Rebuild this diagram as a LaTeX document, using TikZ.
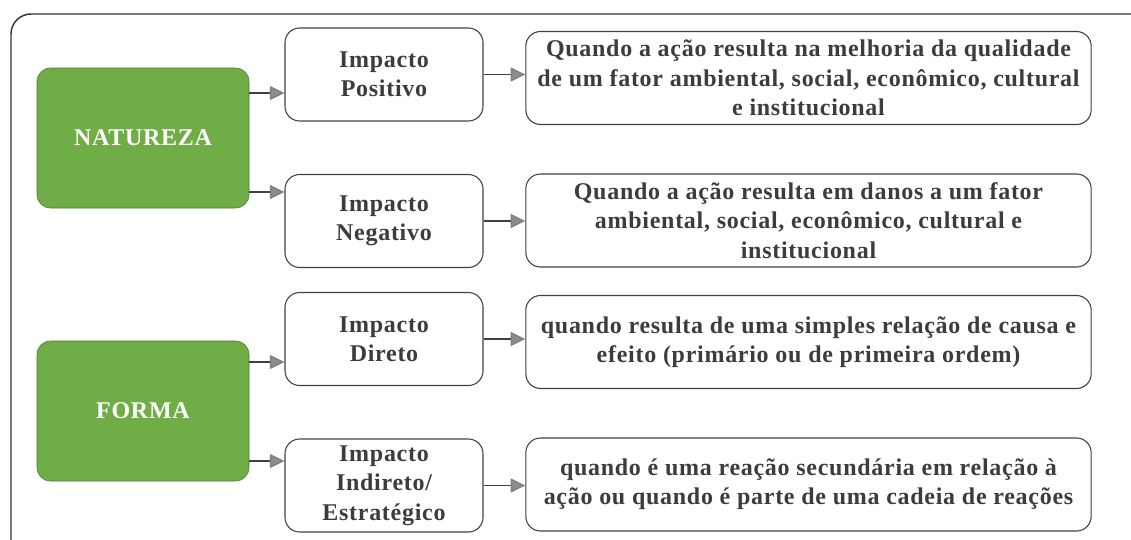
\documentclass[tikz,border=0pt]{standalone}
\usepackage{fontspec}
\setmainfont{Liberation Serif}[LetterSpace=3]
\usetikzlibrary{arrows.meta,calc}

\definecolor{natgreen}{HTML}{70AD47}
\definecolor{txtgray}{HTML}{3C3C3C}

\tikzset{
  grupo/.style={draw=natgreen!70!black, fill=natgreen, rounded corners=10pt,
    minimum width=159pt, minimum height=105pt, text=white,
    font=\bfseries\fontsize{18}{21}\selectfont},
  tipo/.style={draw=black!75, line width=0.8pt, rounded corners=11pt,
    minimum width=148.5pt, minimum height=69.75pt, align=center, text=txtgray,
    inner sep=2pt, font=\bfseries\fontsize{18}{22}\selectfont},
  descr/.style={tipo, minimum width=424pt},
  seta/.style={draw=black!75, line width=1.1pt,
    -{Triangle[length=11pt,width=10.5pt,fill=black!45,color=black!50]}}
}

\begin{document}
\begin{tikzpicture}[x=0.75pt,y=-0.75pt]
  \useasboundingbox (0,0) rectangle (1131,539);
  \clip (0,0) rectangle (1131,539);
  % moldura
  \draw[black!80, line width=1.1pt, rounded corners=15pt] (11,14) rectangle (1160,580);

  % grupos
  \node[grupo] (nat) at (143,138) {NATUREZA};
  \node[grupo] (forma) at (143,411) {FORMA};

  % tipos de impacto
  \node[tipo] (ipos) at (384,74.5) {Impacto\\Positivo};
  \node[tipo] (ineg) at (384,221) {Impacto\\Negativo};
  \node[tipo] (idir) at (384,339) {Impacto\\Direto};
  \node[tipo] (iind) at (384,485.5) {Impacto\\Indireto/\\Estratégico};

  % descricoes
  \node[descr] (dpos) at (808.5,78) {Quando a ação resulta na melhoria da qualidade\\de um fator ambiental, social, econômico, cultural\\e institucional};
  \node[descr] (dneg) at (808.5,220.5) {Quando a ação resulta em danos a um fator\\ambiental, social, econômico, cultural e\\institucional};
  \node[descr] (ddir) at (808.5,342) {quando resulta de uma simples relação de causa e\\efeito (primário ou de primeira ordem)};
  \node[descr] (dind) at (808.5,484.5) {quando é uma reação secundária em relação à\\ação ou quando é parte de uma cadeia de reações};

  % setas
  \coordinate (n1) at ($(nat.east)+(0,-45)$);
  \coordinate (n2) at ($(nat.east)+(0,54)$);
  \coordinate (f1) at ($(forma.east)+(0,-49)$);
  \coordinate (f2) at ($(forma.east)+(0,50)$);
  \draw[seta] (n1) -- (n1 -| ipos.west);
  \draw[seta] (n2) -- (n2 -| ineg.west);
  \draw[seta] (f1) -- (f1 -| idir.west);
  \draw[seta] (f2) -- (f2 -| iind.west);
  \draw[seta] (ipos.east) -- (ipos.east -| dpos.west);
  \draw[seta] (ineg.east) -- (ineg.east -| dneg.west);
  \draw[seta] (idir.east) -- (idir.east -| ddir.west);
  \draw[seta] (iind.east) -- (iind.east -| dind.west);
\end{tikzpicture}
\end{document}
